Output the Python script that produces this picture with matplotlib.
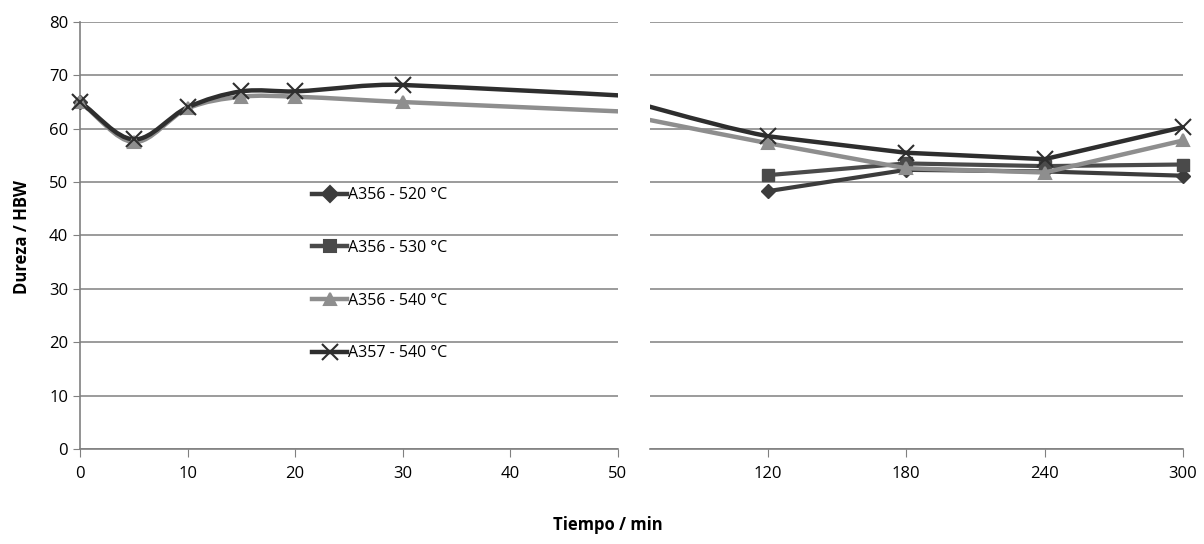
import numpy as np
import matplotlib
matplotlib.use('Agg')
import matplotlib.pyplot as plt
from matplotlib.path import Path
from matplotlib.patches import PathPatch

plt.rcParams['font.family'] = ['Open Sans', 'DejaVu Sans']

# data
t_full = [0, 5, 10, 15, 20, 30, 120, 180, 240, 300]
a356_540 = [65, 57.5, 63.8, 66, 66, 65, 57.3, 52.6, 51.8, 57.8]
a357_540 = [65, 58, 64, 67, 67, 68.2, 58.6, 55.5, 54.3, 60.3]
t_late = [120, 180, 240, 300]
a356_520 = [48.3, 52.3, 52.0, 51.2]
a356_530 = [51.3, 53.5, 53.0, 53.3]
start_val = 65

labels = ['A356 - 520 °C', 'A356 - 530 °C', 'A356 - 540 °C', 'A357 - 540 °C']
colors = ['#3c3c3c', '#4a4a4a', '#8e8e8e', '#2e2e2e']
markers = ['D', 's', '^', 'x']


def smooth_path(x, y, n_smooth=7):
    # hermite curve through the first n_smooth points, straight after
    x = np.asarray(x, float)
    y = np.asarray(y, float)
    n = len(x)
    m = np.zeros(n)
    for i in range(n):
        a = max(i - 1, 0)
        b = min(i + 1, n - 1)
        m[i] = (y[b] - y[a]) / (x[b] - x[a])
    verts = [(x[0], y[0])]
    codes = [Path.MOVETO]
    for i in range(n - 1):
        dx = x[i + 1] - x[i]
        if i + 1 < n_smooth:
            verts += [(x[i] + dx / 3, y[i] + m[i] * dx / 3),
                      (x[i + 1] - dx / 3, y[i + 1] - m[i + 1] * dx / 3),
                      (x[i + 1], y[i + 1])]
            codes += [Path.CURVE4] * 3
        else:
            verts.append((x[i + 1], y[i + 1]))
            codes.append(Path.LINETO)
    return Path(verts, codes)


fig = plt.figure(figsize=(12.04, 5.44), dpi=100)
axl = fig.add_axes([0.0664, 0.1746, 0.4468, 0.785])
axr = fig.add_axes([0.5399, 0.1746, 0.4427, 0.785])

for ax in (axl, axr):
    ax.set_ylim(0, 80)
    ax.set_yticks(range(0, 81, 10))
    ax.grid(axis='y', color='#8a8a8a', linewidth=1.2)
    ax.set_axisbelow(True)
    for s in ('top', 'right'):
        ax.spines[s].set_visible(False)
    ax.spines['bottom'].set_color('#808080')
    ax.spines['bottom'].set_linewidth(1.2)
    ax.tick_params(axis='x', direction='out', length=6, color='#808080',
                   labelsize=12, pad=6)

axl.set_xlim(0, 50)
axl.set_xticks(range(0, 51, 10))
axl.spines['left'].set_color('#808080')
axl.spines['left'].set_linewidth(1.2)
axl.tick_params(axis='y', direction='out', length=5, color='#808080',
                labelsize=12)

axr.set_xlim(69, 300)
axr.set_xticks(t_late)
axr.spines['left'].set_visible(False)
axr.tick_params(axis='y', left=False, labelleft=False)

tf = np.array(t_full)
for ax in (axl, axr):
    lo, hi = ax.get_xlim()
    keep = (tf >= lo) & (tf <= hi)
    # A356 520 / 530: only the late values, straight lines
    if ax is axr:
        for vals, c, m in [(a356_520, colors[0], markers[0]),
                           (a356_530, colors[1], markers[1])]:
            ax.plot(t_late, vals, color=c, lw=3, marker=m,
                    ms=9 if m == 's' else 7, zorder=3, clip_on=False)
    for vals, c, m in [(a356_540, colors[2], markers[2]),
                       (a357_540, colors[3], markers[3])]:
        p = PathPatch(smooth_path(t_full, vals), facecolor='none',
                      edgecolor=c, lw=3.2, zorder=4)
        ax.add_patch(p)
        ax.plot(tf[keep], np.array(vals)[keep], color=c, ls='none', marker=m,
                ms=11 if m == 'x' else 9, mew=1.5, zorder=5, clip_on=False)

axl.plot([0], [start_val], color=colors[0], marker='D', ms=7, ls='none',
         zorder=3, clip_on=False)

# legend handles with line + marker
leg_handles = []
for c, m in zip(colors, markers):
    l, = axl.plot([], [], color=c, lw=3.2, marker=m,
                  ms=11 if m == 'x' else 8, mew=1.5)
    leg_handles.append(l)
axl.legend(leg_handles, labels, loc='upper left', bbox_to_anchor=(0.42, 0.628),
           frameon=False, fontsize=11.5, labelspacing=2.3, handlelength=2.2,
           handletextpad=0.05, borderaxespad=0)

fig.text(0.018, 0.565, 'Dureza / HBW', rotation=90, ha='center', va='center',
         fontsize=12, fontweight='bold')
fig.text(0.505, 0.035, 'Tiempo / min', ha='center', va='center',
         fontsize=12, fontweight='bold')

fig.savefig('out.png', dpi=100)
